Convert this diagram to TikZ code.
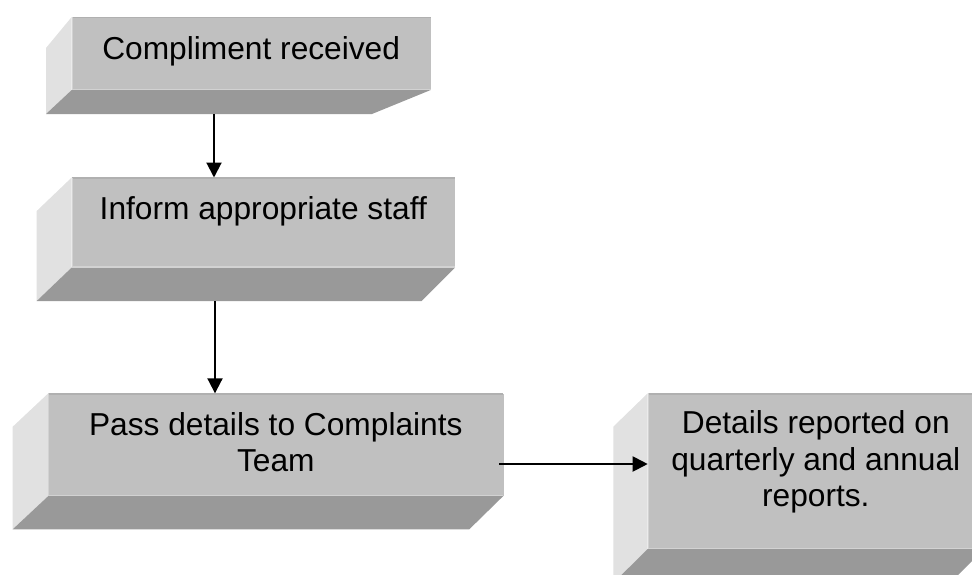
\documentclass[tikz,border=0pt]{standalone}
\usepackage{fontspec}
\setmainfont{Liberation Sans}
\usetikzlibrary{arrows.meta}
\definecolor{frontc}{HTML}{C0C0C0}
\definecolor{leftc}{HTML}{E1E1E1}
\definecolor{bottomc}{HTML}{999999}
\definecolor{edgec}{HTML}{B0B0B0}
\definecolor{lightedge}{HTML}{D2D2D2}
\tikzset{
  front/.style={fill=frontc, draw=none},
  leftface/.style={fill=leftc, draw=none},
  bottomface/.style={fill=bottomc, draw=none},
  topedge/.style={draw=edgec, line width=1.5pt},
  hiedge/.style={draw=lightedge, line width=1.2pt},
  label/.style={font=\fontsize{31.7}{36.5}\selectfont, align=center, inner sep=0pt, anchor=base},
  flow/.style={line width=2pt, -{Triangle[length=15pt,width=15pt]}}
}
\begin{document}
\begin{tikzpicture}[x=1pt,y=-1pt]
\useasboundingbox (0,0) rectangle (972,574);
\clip (0,0) rectangle (972,574);
% Box 1
\fill[leftface] (71.7,17) -- (46,48) -- (46,114) -- (71.7,90) -- cycle;
\fill[bottomface] (71.7,90) -- (46,114) -- (372,114) -- (430.7,90) -- cycle;
\node[front, minimum width=359pt, minimum height=73pt, inner sep=0pt, anchor=north west] (f1) at (71.7,17) {};
\draw[topedge] (71.7,17.7) -- (430.7,17.7);
\draw[hiedge] (71.7,89.4) -- (430.7,89.4);
\draw[hiedge] (72.2,17) -- (72.2,90);
\node[label] (t1) at (251.2,59.3) {Compliment received};
% Box 2
\fill[leftface] (71.7,177.5) -- (36.7,211) -- (36.7,301) -- (71.7,267.5) -- cycle;
\fill[bottomface] (71.7,267.5) -- (36.7,301) -- (421.7,301) -- (455,267.5) -- cycle;
\node[front, minimum width=383.3pt, minimum height=90pt, inner sep=0pt, anchor=north west] (f2) at (71.7,177.5) {};
\draw[topedge] (71.7,178.2) -- (455,178.2);
\draw[hiedge] (71.7,266.9) -- (455,266.9);
\draw[hiedge] (72.2,177.5) -- (72.2,267.5);
\node[label] (t2) at (263.3,219.3) {Inform appropriate staff};
% Box 3
\fill[leftface] (48.3,393.3) -- (12.7,426.7) -- (12.7,529.3) -- (48.3,496) -- cycle;
\fill[bottomface] (48.3,496) -- (12.7,529.3) -- (469.3,529.3) -- (503.3,496) -- cycle;
\node[front, minimum width=455pt, minimum height=102.7pt, inner sep=0pt, anchor=north west] (f3) at (48.3,393.3) {};
\draw[topedge] (48.3,394) -- (503.3,394);
\draw[hiedge] (48.3,495.4) -- (503.3,495.4);
\draw[hiedge] (48.8,393.3) -- (48.8,496);
\node[label] (t3) at (275.8,471.7) {Pass details to Complaints\\Team};
% Box 4
\fill[leftface] (647.7,393.3) -- (613.3,426.7) -- (613.3,583) -- (647.7,549) -- cycle;
\fill[bottomface] (647.7,549) -- (613.3,583) -- (950,583) -- (984,549) -- cycle;
\node[front, minimum width=336.3pt, minimum height=155.7pt, inner sep=0pt, anchor=north west] (f4) at (647.7,393.3) {};
\draw[topedge] (647.7,394) -- (984,394);
\draw[hiedge] (647.7,548.4) -- (984,548.4);
\draw[hiedge] (648.2,393.3) -- (648.2,549);
\node[label] (t4) at (815.8,506.7) {Details reported on\\quarterly and annual\\reports.};
% Connectors
\coordinate (a1) at (214,114);
\coordinate (a2) at (215,301);
\coordinate (a3) at (499,464);
\draw[flow] (a1) -- (a1 |- f2.north);
\draw[flow] (a2) -- (a2 |- f3.north);
\draw[flow] (a3) -- (a3 -| f4.west);
\end{tikzpicture}
\end{document}
